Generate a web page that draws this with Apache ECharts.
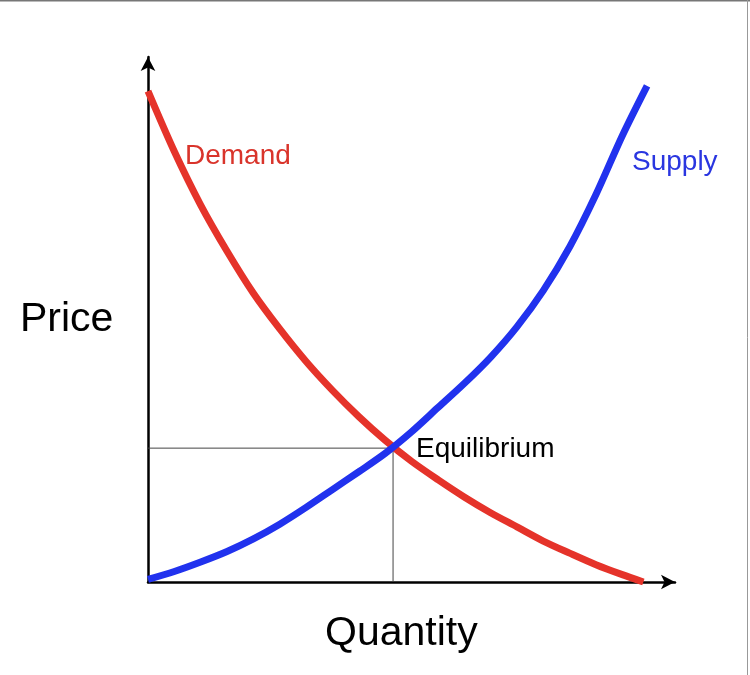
<!DOCTYPE html>
<html>
<head>
<meta charset="utf-8">
<title>Supply and Demand</title>
<script src="https://cdn.jsdelivr.net/npm/echarts@6/dist/echarts.min.js"></script>
<style>
  html, body { margin: 0; padding: 0; background: #fff; }
  #chart { width: 750px; height: 675px; }
</style>
</head>
<body>
<div id="chart"></div>
<script>
// demand curve (quantity, price)
var demand = [
  [0, 9.35], [0.5, 8.2], [1, 7.18], [1.5, 6.3], [2, 5.5], [2.5, 4.82],
  [3, 4.2], [3.5, 3.65], [4, 3.15], [4.5, 2.7], [5, 2.3], [5.5, 1.95],
  [6, 1.62], [6.5, 1.32], [7, 1.05], [7.5, 0.78], [8, 0.55], [8.5, 0.33],
  [9, 0.14], [9.4, 0]
]
// supply curve
var supply = [
  [0, 0.05], [0.5, 0.2], [1, 0.38], [1.5, 0.58], [2, 0.82], [2.5, 1.1],
  [3, 1.42], [3.5, 1.76], [4, 2.1], [4.5, 2.45], [5, 2.86], [5.5, 3.32],
  [6, 3.78], [6.5, 4.28], [7, 4.86], [7.5, 5.55], [8, 6.38], [8.5, 7.38],
  [9, 8.5], [9.47, 9.45]
]
// equilibrium guide lines
var equilibrium = [[0, 2.55], [4.65, 2.55], [4.65, 0]]

var myChart = echarts.init(document.getElementById('chart'))
var option = {
  animation: false,
  backgroundColor: '#fff',
  grid: { left: 148, right: 75, top: 57, bottom: 93 },
  xAxis: {
    type: 'value',
    min: 0,
    max: 10,
    splitLine: { show: false },
    axisTick: { show: false },
    axisLabel: { show: false },
    axisLine: {
      show: true,
      symbol: ['none', 'arrow'],
      symbolSize: [11, 14],
      lineStyle: { color: '#000', width: 2.5 }
    }
  },
  yAxis: {
    type: 'value',
    min: 0,
    max: 10,
    splitLine: { show: false },
    axisTick: { show: false },
    axisLabel: { show: false },
    axisLine: {
      show: true,
      symbol: ['none', 'arrow'],
      symbolSize: [11, 14],
      lineStyle: { color: '#000', width: 2.5 }
    }
  },
  series: [
    {
      name: 'Equilibrium',
      type: 'line',
      data: equilibrium,
      symbol: 'none',
      lineStyle: { color: '#444', width: 1 },
      z: 1
    },
    {
      name: 'Demand',
      type: 'line',
      data: demand,
      smooth: 0.3,
      symbol: 'none',
      lineStyle: { color: '#e5332a', width: 7 },
      z: 2
    },
    {
      name: 'Supply',
      type: 'line',
      data: supply,
      smooth: 0.3,
      symbol: 'none',
      lineStyle: { color: '#2132ee', width: 7 },
      z: 3
    }
  ],
  graphic: [
    { type: 'line', shape: { x1: 0, y1: 0.5, x2: 750, y2: 0.5 }, style: { stroke: '#777', lineWidth: 2 } },
    { type: 'line', shape: { x1: 747.5, y1: 0, x2: 747.5, y2: 675 }, style: { stroke: '#999', lineWidth: 1 } },
    {
      type: 'text', left: 20, top: 299,
      style: { text: 'Price', font: '41px "Liberation Sans", Arial, sans-serif', fill: '#000' }
    },
    {
      type: 'text', left: 325, top: 613,
      style: { text: 'Quantity', font: '41px "Liberation Sans", Arial, sans-serif', fill: '#000' }
    },
    {
      type: 'text', left: 185, top: 142,
      style: { text: 'Demand', font: '28px "Liberation Sans", Arial, sans-serif', fill: '#d9342b' }
    },
    {
      type: 'text', left: 632, top: 148,
      style: { text: 'Supply', font: '28px "Liberation Sans", Arial, sans-serif', fill: '#2a36e0' }
    },
    {
      type: 'text', left: 416, top: 435,
      style: { text: 'Equilibrium', font: '28px "Liberation Sans", Arial, sans-serif', fill: '#000' }
    }
  ]
}
myChart.setOption(option)
</script>
</body>
</html>
